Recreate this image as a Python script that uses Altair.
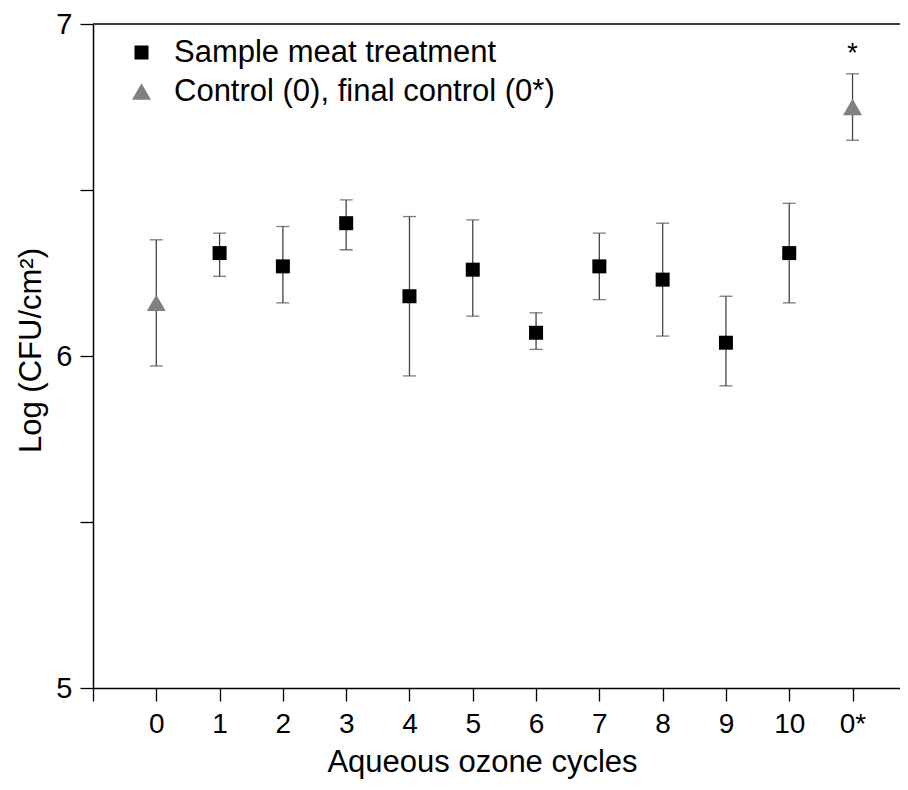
import altair as alt
import pandas as pd

labels = ["0", "1", "2", "3", "4", "5", "6", "7", "8", "9", "10", "0*"]
means = [6.16, 6.31, 6.27, 6.40, 6.18, 6.26, 6.07, 6.27, 6.23, 6.04, 6.31, 6.75]
upper = [6.35, 6.37, 6.39, 6.47, 6.42, 6.41, 6.13, 6.37, 6.40, 6.18, 6.46, 6.85]
lower = [5.97, 6.24, 6.16, 6.32, 5.94, 6.12, 6.02, 6.17, 6.06, 5.91, 6.16, 6.65]
SAMPLE = "Sample meat treatment"
CONTROL = "Control (0), final control (0*)"
groups = [CONTROL] + [SAMPLE] * 10 + [CONTROL]
stars = [""] * 11 + ["*"]

df = pd.DataFrame({
    "idx": list(range(len(labels))),
    "label": labels,
    "mean": means,
    "upper": upper,
    "lower": lower,
    "group": groups,
    "star": stars,
})

label_js = "[" + ",".join("'" + l + "'" for l in labels) + "]"

x_enc = alt.X(
    "idx:Q",
    scale=alt.Scale(domain=[-1, 11.75], nice=False, zero=False),
    axis=alt.Axis(
        values=list(range(-1, 12)),
        labelExpr=label_js + "[datum.value] || ''",
        title="Aqueous ozone cycles",
        titleFontSize=31,
        titleFontWeight="normal",
        titleX=389,
        titleY=83,
        titleAlign="center",
        titleBaseline="alphabetic",
        labelFontSize=28,
        labelPadding=9,
        tickSize=13,
    ),
)
y_scale = alt.Scale(domain=[5, 7], nice=False, zero=False)
y_enc = alt.Y(
    "mean:Q",
    scale=y_scale,
    axis=alt.Axis(
        values=[5, 5.5, 6, 6.5, 7],
        labelExpr="datum.value % 1 == 0 ? format(datum.value, 'd') : ''",
        title="Log (CFU/cm²)",
        titleFontSize=31,
        titleFontWeight="normal",
        titleAngle=-90,
        titleX=-53,
        titleY=326,
        titleAlign="center",
        titleBaseline="alphabetic",
        labelFontSize=29,
        labelPadding=8,
        tickSize=13,
    ),
)

base = alt.Chart(df)

err = base.mark_rule(color="#444444", strokeWidth=1.3).encode(
    x="idx:Q", y=alt.Y("lower:Q", scale=y_scale), y2="upper:Q"
)
cap_top = base.mark_tick(orient="horizontal", color="#444444", thickness=1.3, size=13).encode(
    x="idx:Q", y=alt.Y("upper:Q", scale=y_scale)
)
cap_bot = base.mark_tick(orient="horizontal", color="#444444", thickness=1.3, size=13).encode(
    x="idx:Q", y=alt.Y("lower:Q", scale=y_scale)
)

points = base.mark_point(filled=True, opacity=1, strokeWidth=0).encode(
    x=x_enc,
    y=y_enc,
    shape=alt.Shape("group:N", scale=alt.Scale(domain=[SAMPLE, CONTROL], range=["square", "triangle-up"]),
                    legend=alt.Legend(title=None)),
    color=alt.Color("group:N", scale=alt.Scale(domain=[SAMPLE, CONTROL], range=["#000000", "#808080"]),
                    legend=alt.Legend(title=None)),
    size=alt.Size("group:N", scale=alt.Scale(domain=[SAMPLE, CONTROL], range=[196, 360]),
                  legend=alt.Legend(title=None)),
)

star = base.mark_text(fontSize=27, dy=-20, color="#000000", font="Liberation Sans").encode(
    x="idx:Q", y=alt.Y("upper:Q", scale=y_scale), text="star:N"
)

top = alt.Chart(pd.DataFrame({"v": [7]})).mark_rule(color="#000000", strokeWidth=1.5).encode(
    y=alt.Y("v:Q", scale=y_scale)
)

chart = alt.layer(err, cap_top, cap_bot, points, star, top).properties(
    width=807,
    height=664,
    padding={"left": 85, "top": 16, "right": 0, "bottom": 94},
    autosize=alt.AutoSizeParams(type="none"),
).configure_view(stroke=None).configure_axis(
    grid=False,
    domainColor="#000000",
    domainWidth=1.5,
    tickColor="#000000",
    tickWidth=1.3,
    labelColor="#000000",
    titleColor="#000000",
    labelFont="Liberation Sans",
    titleFont="Liberation Sans",
).configure_legend(
    orient="none",
    legendX=33,
    legendY=13,
    labelFontSize=31,
    labelFont="Liberation Sans",
    labelColor="#000000",
    labelOffset=17,
    labelLimit=700,
    rowPadding=7,
    padding=0,
    symbolStrokeWidth=0,
)

chart.save("out.html", embed_options={"renderer": "svg", "actions": False})
